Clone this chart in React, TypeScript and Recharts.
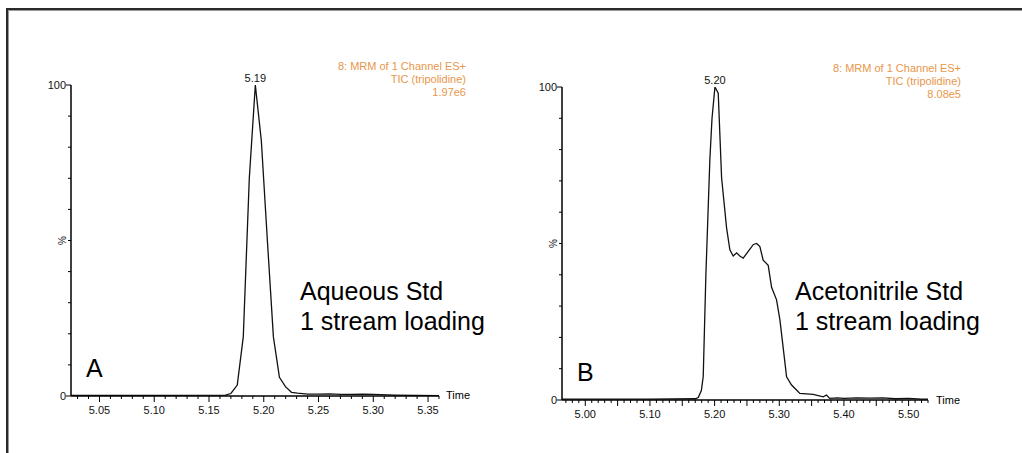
import React from "react";
import { LineChart, Line, XAxis, YAxis, ReferenceDot } from "recharts";

const FONT = "'Liberation Sans', Arial, sans-serif";
const ORANGE = "#E8964A";

// panel A: aqueous standard
const timesA = [
  5.024, 5.1, 5.165, 5.17, 5.1758, 5.1813, 5.1868, 5.1923, 5.1978, 5.2033, 5.2088,
  5.2143, 5.2198, 5.2253, 5.2308, 5.24, 5.25, 5.26, 5.27, 5.28, 5.29, 5.3, 5.32, 5.34, 5.36,
];
const valuesA = [
  0.2, 0.2, 0.3, 0.8, 3.5, 19, 70, 100, 82, 50, 19,
  6, 3, 1.2, 0.9, 0.6, 0.6, 0.7, 0.5, 0.5, 0.6, 0.5, 0.3, 0.2, 0.1,
];
const labelTicksA = [5.05, 5.1, 5.15, 5.2, 5.25, 5.3, 5.35];

// panel B: acetonitrile standard
const timesB = [
  4.964, 5.1, 5.17, 5.1747, 5.1795, 5.1824, 5.1865, 5.1927, 5.196, 5.2005, 5.2056,
  5.2108, 5.2185, 5.2236, 5.2288, 5.234, 5.239, 5.2442, 5.252, 5.26, 5.265, 5.27,
  5.2751, 5.2829, 5.2881, 5.2958, 5.301, 5.3113, 5.319, 5.3267, 5.3318, 5.3524,
  5.3679, 5.373, 5.378, 5.39, 5.4, 5.42, 5.44, 5.46, 5.48, 5.5, 5.52, 5.53,
];
const valuesB = [
  0.3, 0.3, 0.4, 0.8, 3, 7.5, 40, 77, 90, 100, 98,
  71, 55, 48, 46, 47, 46, 45.3, 47.5, 49.7, 50, 49,
  44.7, 43, 36, 32, 25.6, 7.4, 4.8, 3.2, 2.1, 1.8,
  1.0, 1.6, 0.5, 0.7, 0.5, 0.7, 0.6, 0.7, 0.4, 0.5, 0.3, 0.3,
];
const labelTicksB = [5.0, 5.1, 5.2, 5.3, 5.4, 5.5];

const yTicks = [0, 10, 20, 30, 40, 50, 60, 70, 80, 90, 100];

const dataA = timesA.map((t, i) => ({ t, v: valuesA[i] }));
const dataB = timesB.map((t, i) => ({ t, v: valuesB[i] }));

// minor axis ticks every 0.01
const range = (a: number, b: number) => {
  const out: number[] = [];
  for (let i = Math.round(a * 100); i <= Math.round(b * 100); i++) out.push(i / 100);
  return out;
};
const minorA = range(5.03, 5.36);
const minorB = range(4.97, 5.53);

const near = (a: number, b: number) => Math.abs(a - b) < 1e-6;

const XTick = (props: any) => {
  const { x, y, payload, labels } = props;
  const v = payload.value as number;
  const isMajor = near(v / 0.05, Math.round(v / 0.05));
  const isLabel = labels.some((l: number) => near(l, v));
  return (
    <g>
      <line x1={x} x2={x} y1={y} y2={y + (isMajor ? 6 : 3)} stroke="#000" strokeWidth={1} />
      {isLabel && (
        <text x={x} y={y + 18} textAnchor="middle" fontSize={11} fill="#111" fontFamily={FONT}>
          {v.toFixed(2)}
        </text>
      )}
    </g>
  );
};

const YTick = (props: any) => {
  const { x, y, payload } = props;
  const v = payload.value as number;
  const long = v === 0 || v === 100;
  return (
    <g>
      <line x1={x} x2={x - (long ? 5 : 3)} y1={y} y2={y} stroke="#000" strokeWidth={1} />
      {long && (
        <text x={x - 5} y={y + 4} textAnchor="end" fontSize={11} fill="#111" fontFamily={FONT}>
          {v}
        </text>
      )}
      {v === 50 && (
        <text
          x={x - 9}
          y={y}
          textAnchor="middle"
          fontSize={10}
          fill="#111"
          fontFamily={FONT}
          transform={`rotate(-90 ${x - 9} ${y})`}
          dy={3.5}
        >
          %
        </text>
      )}
    </g>
  );
};

const abs = (left: number, top: number, extra: React.CSSProperties = {}): React.CSSProperties => ({
  position: "absolute",
  left,
  top,
  fontFamily: FONT,
  whiteSpace: "nowrap",
  ...extra,
});

const InfoBlock = ({ right, top, value }: { right: number; top: number; value: string }) => (
  <div
    style={abs(right - 200, top, {
      width: 200,
      textAlign: "right",
      color: ORANGE,
      fontSize: 11,
      lineHeight: "13px",
    })}
  >
    <div>8: MRM of 1 Channel ES+</div>
    <div>TIC (tripolidine)</div>
    <div>{value}</div>
  </div>
);

const bigText: React.CSSProperties = { fontSize: 25, lineHeight: "30px", color: "#000" };

export default function App() {
  return (
    <div style={{ position: "absolute", left: 0, top: 0, width: 1022, height: 453, background: "#fff", overflow: "hidden" }}>
      <div
        style={{
          position: "absolute",
          left: 6,
          top: 8,
          width: 1030,
          height: 460,
          borderLeft: "2px solid #2a2a2a",
          borderTop: "2px solid #2a2a2a",
          boxShadow: "inset 1px 1px 0 #999",
        }}
      />

      <div style={{ position: "absolute", left: 0, top: 0 }}>
        <LineChart width={480} height={453} data={dataA} margin={{ top: 85, right: 41, bottom: 27, left: 31 }}>
          <XAxis
            dataKey="t"
            type="number"
            domain={[5.024, 5.36]}
            allowDataOverflow
            ticks={minorA}
            interval={0}
            tickSize={0}
            tickMargin={0}
            tickLine={false}
            height={30}
            axisLine={{ stroke: "#000", strokeWidth: 1.5 }}
            tick={(p: any) => <XTick {...p} labels={labelTicksA} />}
          />
          <YAxis
            type="number"
            domain={[0, 100]}
            allowDataOverflow
            ticks={yTicks}
            interval={0}
            width={40}
            tickSize={0}
            tickMargin={0}
            tickLine={false}
            axisLine={{ stroke: "#000", strokeWidth: 1.5 }}
            tick={(p: any) => <YTick {...p} />}
          />
          <Line type="linear" dataKey="v" stroke="#111" strokeWidth={1.3} dot={false} isAnimationActive={false} />
          <ReferenceDot
            x={5.1923}
            y={100}
            r={1}
            fill="none"
            stroke="none"
            label={{ value: "5.19", position: "top", fontSize: 11, fill: "#111", offset: 2, fontFamily: FONT }}
          />
        </LineChart>
      </div>

      <div style={{ position: "absolute", left: 490, top: 0 }}>
        <LineChart width={532} height={453} data={dataB} margin={{ top: 87, right: 94, bottom: 23, left: 32 }}>
          <XAxis
            dataKey="t"
            type="number"
            domain={[4.964, 5.53]}
            allowDataOverflow
            ticks={minorB}
            interval={0}
            tickSize={0}
            tickMargin={0}
            tickLine={false}
            height={30}
            axisLine={{ stroke: "#000", strokeWidth: 1.5 }}
            tick={(p: any) => <XTick {...p} labels={labelTicksB} />}
          />
          <YAxis
            type="number"
            domain={[0, 100]}
            allowDataOverflow
            ticks={yTicks}
            interval={0}
            width={40}
            tickSize={0}
            tickMargin={0}
            tickLine={false}
            axisLine={{ stroke: "#000", strokeWidth: 1.5 }}
            tick={(p: any) => <YTick {...p} />}
          />
          <Line type="linear" dataKey="v" stroke="#111" strokeWidth={1.3} dot={false} isAnimationActive={false} />
          <ReferenceDot
            x={5.2005}
            y={100}
            r={1}
            fill="none"
            stroke="none"
            label={{ value: "5.20", position: "top", fontSize: 11, fill: "#111", offset: 2, fontFamily: FONT }}
          />
        </LineChart>
      </div>

      <InfoBlock right={466} top={60} value="1.97e6" />
      <InfoBlock right={961} top={62} value="8.08e5" />

      <div style={abs(446, 389, { fontSize: 11 })}>Time</div>
      <div style={abs(936, 394, { fontSize: 11 })}>Time</div>

      <div style={abs(300, 276, bigText)}>
        <div>Aqueous Std</div>
        <div>1 stream loading</div>
      </div>
      <div style={abs(795, 276, bigText)}>
        <div>Acetonitrile Std</div>
        <div>1 stream loading</div>
      </div>

      <div style={abs(86, 353, bigText)}>A</div>
      <div style={abs(577, 357, bigText)}>B</div>
    </div>
  );
}
